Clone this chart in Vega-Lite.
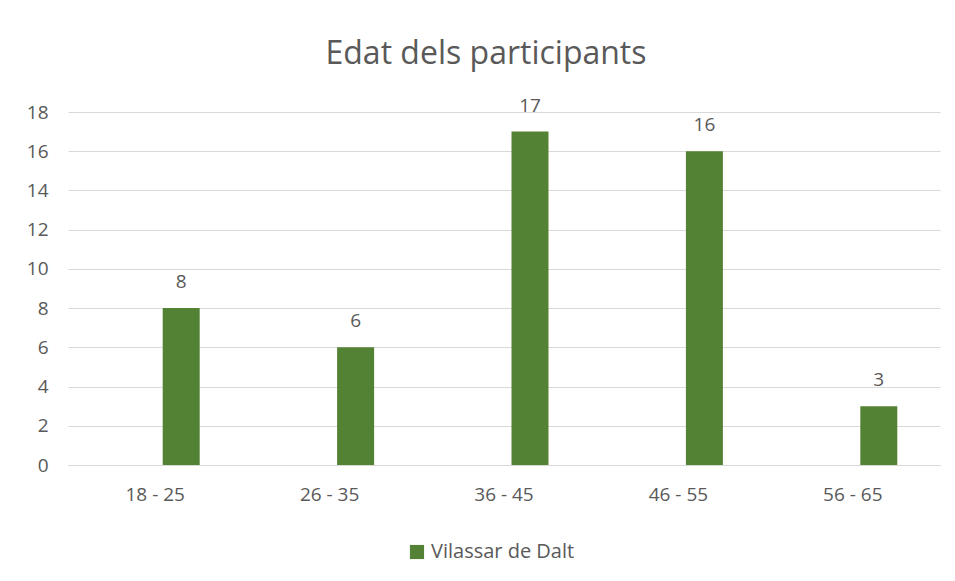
{
  "$schema": "https://vega.github.io/schema/vega-lite/v6.json",
  "width": 872,
  "height": 353,
  "autosize": "none",
  "padding": {"left": 68, "top": 112, "right": 15, "bottom": 116},
  "background": "white",
  "config": {
    "font": "Open Sans",
    "view": {"stroke": null},
    "axis": {"labelColor": "#595959", "labelFontSize": 19, "titleColor": "#595959"}
  },
  "title": {
    "text": "Edat dels participants",
    "fontSize": 32,
    "fontWeight": "normal",
    "color": "#595959",
    "anchor": "middle",
    "dx": -18,
    "offset": 26
  },
  "data": {
    "values": [
      {"edat": "18 - 25", "participants": 8, "serie": "Vilassar de Dalt"},
      {"edat": "26 - 35", "participants": 6, "serie": "Vilassar de Dalt"},
      {"edat": "36 - 45", "participants": 17, "serie": "Vilassar de Dalt"},
      {"edat": "46 - 55", "participants": 16, "serie": "Vilassar de Dalt"},
      {"edat": "56 - 65", "participants": 3, "serie": "Vilassar de Dalt"}
    ]
  },
  "encoding": {
    "x": {
      "field": "edat",
      "type": "nominal",
      "sort": null,
      "title": null,
      "axis": {"labelAngle": 0, "ticks": false, "domainColor": "#d9d9d9", "labelPadding": 20}
    },
    "y": {
      "field": "participants",
      "type": "quantitative",
      "scale": {"domain": [0, 18]},
      "title": null,
      "axis": {"values": [0, 2, 4, 6, 8, 10, 12, 14, 16, 18], "domain": false, "ticks": false, "gridColor": "#d9d9d9", "labelPadding": 20}
    }
  },
  "layer": [
    {
      "mark": {"type": "bar", "width": 37, "xOffset": 26, "color": "#548235"},
      "encoding": {
        "color": {
          "field": "serie",
          "type": "nominal",
          "scale": {"range": ["#548235"]},
          "legend": {
            "title": null,
            "orient": "none",
            "legendX": 339,
            "legendY": 430,
            "symbolType": "square",
            "symbolSize": 200,
            "labelFontSize": 20,
            "labelColor": "#595959"
          }
        }
      }
    },
    {
      "mark": {"type": "text", "xOffset": 26, "dy": -20, "baseline": "alphabetic", "fontSize": 19, "color": "#595959"},
      "encoding": {"text": {"field": "participants", "type": "quantitative"}}
    }
  ]
}
